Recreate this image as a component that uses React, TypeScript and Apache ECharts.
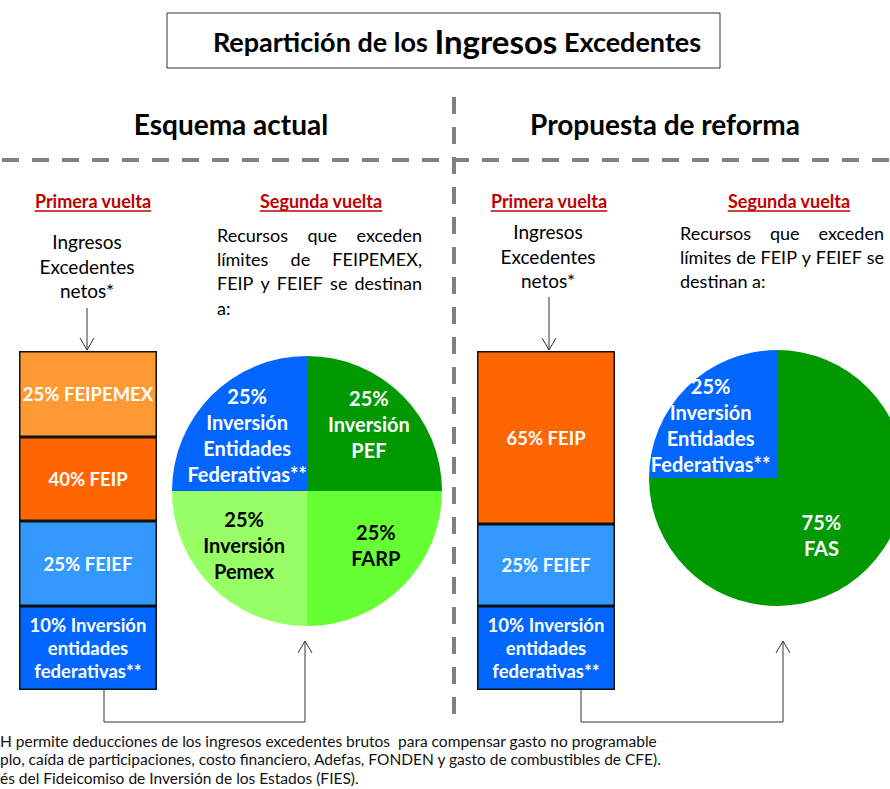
import React, { useEffect, useRef } from 'react';
import * as echarts from 'echarts';

const FONT = 'Lato, "Open Sans", sans-serif';

// ---- Data -------------------------------------------------------------
const titleParts = ['Repartición de los ', 'Ingresos', ' Excedentes'];
const sectionTitles = ['Esquema actual', 'Propuesta de reforma'];
const roundTitles = ['Primera vuelta', 'Segunda vuelta'];
const incomeText = 'Ingresos\nExcedentes\nnetos*';

// Primera vuelta (blocks listed bottom → top)
const actualBlocks = ['10% Inversión\nentidades\nfederativas**', '25% FEIEF', '40% FEIP', '25% FEIPEMEX'];
const actualBlockHeights = [84, 85, 84, 86];
const actualColors = ['#0066FF', '#3399FF', '#FF6600', '#FF9933'];

const reformaBlocks = ['10% Inversión\nentidades\nfederativas**', '25% FEIEF', '65% FEIP'];
const reformaBlockHeights = [84, 82, 173];
const reformaColors = ['#0066FF', '#3399FF', '#FF6600'];

// Segunda vuelta (clockwise from 12 o'clock)
const actualPieNames = ['25%\nInversión\nPEF', '25%\nFARP', '25%\nInversión\nPemex', '25%\nInversión\nEntidades\nFederativas**'];
const actualPieValues = [25, 25, 25, 25];
const actualPieColors = ['#009900', '#66FF33', '#99FF66', '#0066FF'];
const actualPieTextColors = ['#ffffff', '#000000', '#000000', '#ffffff'];

const reformaPieNames = ['75%\nFAS', '25%\nInversión\nEntidades\nFederativas**'];
const reformaPieValues = [75, 25];
const reformaPieColors = ['#009900', '#0066FF'];
const reformaPieTextColors = ['#ffffff', '#ffffff'];

const actualParagraph = [
  ['Recursos que exceden', true],
  ['límites de FEIPEMEX,', true],
  ['FEIP y FEIEF se destinan', true],
  ['a:', false],
];
const reformaParagraph = [
  ['Recursos que exceden', true],
  ['límites de FEIP y FEIEF se', true],
  ['destinan a:', false],
];

const footnotes = [
  'H permite deducciones de los ingresos excedentes brutos  para compensar gasto no programable',
  'plo, caída de participaciones, costo financiero, Adefas, FONDEN y gasto de combustibles de CFE).',
  'és del Fideicomiso de Inversión de los Estados (FIES).',
];

// ---- Layout constants (positions only) ---------------------------------
const actualPieLabelShift = [[12, -17], [19, 4], [-13, 4], [-10, -6]];
const reformaPieLabelShift = [[-3, 10], [-19, -6]];
const BODY = 19;
const PARA = 18;

export default function App() {
  const ref = useRef<HTMLDivElement>(null);

  useEffect(() => {
    if (!ref.current) return;
    const chart = echarts.init(ref.current, undefined, { renderer: 'svg' });

    const canvas = document.createElement('canvas');
    const ctx = canvas.getContext('2d')!;
    const measure = (s: string, size: number, weight = 'normal') => {
      ctx.font = `${weight} ${size}px Lato`;
      return ctx.measureText(s).width;
    };

    const text = (x: number, y: number, t: string, o: any = {}) => ({
      type: 'text',
      x,
      y,
      silent: true,
      style: {
        text: t,
        fill: '#000',
        fontFamily: FONT,
        fontSize: BODY,
        align: 'center',
        verticalAlign: 'middle',
        textAlign: 'center',
        textVerticalAlign: 'middle',
        ...o,
      },
    });
    const line = (x1: number, y1: number, x2: number, y2: number, o: any = {}) => ({
      type: 'line',
      silent: true,
      shape: { x1, y1, x2, y2 },
      style: { stroke: '#333', lineWidth: 1, ...o },
    });
    const poly = (pts: number[][], o: any = {}) => ({
      type: 'polyline',
      silent: true,
      shape: { points: pts },
      style: { stroke: '#333', lineWidth: 1, fill: 'none', ...o },
    });

    const g: any[] = [];
    // Title box
    g.push({
      type: 'rect',
      silent: true,
      shape: { x: 167, y: 13, width: 553, height: 55 },
      style: { fill: 'none', stroke: '#333', lineWidth: 1 },
    });
    g.push({
      type: 'text',
      x: 457,
      y: 41,
      silent: true,
      style: {
        text: `{a|${titleParts[0]}}{b|${titleParts[1]}}{a|${titleParts[2]}}`,
        align: 'center',
        verticalAlign: 'middle',
        textAlign: 'center',
        textVerticalAlign: 'middle',
        rich: {
          a: { fontFamily: FONT, fontSize: 27, fontWeight: 'bold', fill: '#000', color: '#000' },
          b: { fontFamily: FONT, fontSize: 33, fontWeight: 'bold', fill: '#000', color: '#000' },
        },
      },
    });
    // Section titles
    g.push(text(231, 124, sectionTitles[0], { fontSize: 28, fontWeight: 'bold' }));
    g.push(text(665, 124, sectionTitles[1], { fontSize: 28, fontWeight: 'bold' }));
    // Dashed separators
    g.push(line(2, 160, 890, 160, { stroke: '#808080', lineWidth: 4, lineDash: [17, 13] }));
    g.push(line(454, 97, 454, 714, { stroke: '#808080', lineWidth: 4, lineDash: [17, 13] }));

    // Round headers (red, underlined)
    const heads: [number, string][] = [
      [93, roundTitles[0]],
      [321, roundTitles[1]],
      [549, roundTitles[0]],
      [789, roundTitles[1]],
    ];
    heads.forEach(([cx, t]) => {
      g.push(text(cx, 201, t, { fontSize: 18, fontWeight: 'bold', fill: '#C00000' }));
      const w = measure(t, 18, 'bold');
      g.push(line(cx - w / 2, 211, cx + w / 2, 211, { stroke: '#C00000', lineWidth: 1.5 }));
    });

    // Ingresos excedentes netos
    g.push(text(87, 266, incomeText, { lineHeight: 24.5 }));
    g.push(text(548, 256, incomeText, { lineHeight: 24.5 }));
    // Down arrows
    g.push(line(87, 308, 87, 350));
    g.push(poly([[80, 338], [87, 350], [94, 338]]));
    g.push(line(549, 297, 549, 350));
    g.push(poly([[542, 338], [549, 350], [556, 338]]));

    // Justified paragraphs
    const para = (lines: any[], x0: number, x1: number, ys: number[]) => {
      lines.forEach(([s, just]: [string, boolean], i: number) => {
        const words = s.split(' ');
        const ws = words.map((w) => measure(w, PARA));
        const total = ws.reduce((a, b) => a + b, 0);
        const gap = just && words.length > 1 ? Math.max(3, (x1 - x0 - total) / (words.length - 1)) : measure(' ', PARA);
        let x = x0;
        words.forEach((w, k) => {
          g.push(text(x, ys[i], w, { fontSize: PARA, align: 'left', textAlign: 'left' }));
          x += ws[k] + gap;
        });
      });
    };
    para(actualParagraph, 217, 422, [235, 259, 283, 308]);
    para(reformaParagraph, 680, 884, [233, 257, 281]);

    // Brackets with up arrows
    g.push(poly([[104, 690], [104, 722], [305, 722], [305, 641]]));
    g.push(poly([[298, 653], [305, 641], [312, 653]]));
    g.push(poly([[581, 690], [581, 722], [783, 722], [783, 641]]));
    g.push(poly([[776, 653], [783, 641], [790, 653]]));

    // Footnotes
    footnotes.forEach((f, i) => {
      g.push(text(0, [741, 759, 778][i], f, { fontSize: 15.5, align: 'left', textAlign: 'left', fill: '#111' }));
    });

    const barLabel = (t: string) => ({
      show: true,
      position: 'inside',
      formatter: t,
      color: '#fff',
      fontFamily: FONT,
      fontWeight: 'bold',
      fontSize: 18.5,
      lineHeight: 23,
    });
    const barSeries: any[] = [];
    actualBlocks.forEach((t, i) =>
      barSeries.push({
        type: 'bar',
        stack: 'actual',
        xAxisIndex: 0,
        yAxisIndex: 0,
        barWidth: '100%',
        silent: true,
        data: [actualBlockHeights[i]],
        itemStyle: { color: actualColors[i], borderColor: '#111', borderWidth: 1.5 },
        label: barLabel(t),
      })
    );
    reformaBlocks.forEach((t, i) =>
      barSeries.push({
        type: 'bar',
        stack: 'reforma',
        xAxisIndex: 1,
        yAxisIndex: 1,
        barWidth: '100%',
        silent: true,
        data: [reformaBlockHeights[i]],
        itemStyle: { color: reformaColors[i], borderColor: '#111', borderWidth: 1.5 },
        label: barLabel(t),
      })
    );

    const pie = (names: string[], vals: number[], cols: string[], tcols: string[], center: number[], r: number, shift: number[][]) => ({
      type: 'pie',
      center,
      radius: r,
      startAngle: 90,
      clockwise: true,
      silent: true,
      avoidLabelOverlap: false,
      data: names.map((n, i) => ({
        name: n,
        value: vals[i],
        itemStyle: { color: cols[i] },
        label: { color: tcols[i] },
      })),
      itemStyle: { borderWidth: 0 },
      label: {
        show: true,
        position: 'inside',
        formatter: '{b}',
        fontFamily: FONT,
        fontWeight: 'bold',
        fontSize: 20,
        lineHeight: 26,
        align: 'center',
      },
      labelLine: { show: false },
      labelLayout: (p: any) => ({ dx: shift[p.dataIndex][0], dy: shift[p.dataIndex][1] }),
    });

    const actualTotal = actualBlockHeights.reduce((a, b) => a + b, 0);
    const reformaTotal = reformaBlockHeights.reduce((a, b) => a + b, 0);

    chart.setOption({
      animation: false,
      backgroundColor: '#ffffff',
      grid: [
        { left: 19, top: 351, width: 138, height: 339 },
        { left: 477, top: 351, width: 138, height: 339 },
      ],
      xAxis: [
        { type: 'category', gridIndex: 0, data: [sectionTitles[0]], show: false },
        { type: 'category', gridIndex: 1, data: [sectionTitles[1]], show: false },
      ],
      yAxis: [
        { type: 'value', gridIndex: 0, min: 0, max: actualTotal, show: false },
        { type: 'value', gridIndex: 1, min: 0, max: reformaTotal, show: false },
      ],
      series: [
        ...barSeries,
        pie(actualPieNames, actualPieValues, actualPieColors, actualPieTextColors, [307, 491], 135, actualPieLabelShift),
        pie(reformaPieNames, reformaPieValues, reformaPieColors, reformaPieTextColors, [777, 478], 128, reformaPieLabelShift),
      ],
      graphic: { elements: g },
    });

    return () => chart.dispose();
  }, []);

  return <div ref={ref} style={{ position: 'absolute', left: 0, top: 0, width: 890, height: 789 }} />;
}
